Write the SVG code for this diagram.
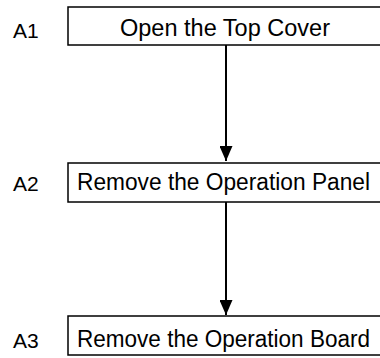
<svg xmlns="http://www.w3.org/2000/svg" width="380" height="358" viewBox="0 0 380 358">
<style>
.box{fill:#fff;stroke:#000;stroke-width:1.5}
.t{font-family:"Liberation Sans",Arial,sans-serif;font-size:23px;fill:#000}
.lbl{font-family:"Liberation Sans",Arial,sans-serif;font-size:21px;fill:#000}
.ln{stroke:#000;stroke-width:2;fill:none}
</style>
<defs>
<marker id="ah" markerUnits="userSpaceOnUse" markerWidth="15" markerHeight="13" refX="15" refY="6.5" orient="auto" viewBox="0 0 15 13">
<path d="M0,0 L15,6.5 L0,13 Z" fill="#000"/>
</marker>
</defs>
<rect width="380" height="358" fill="#fff"/>
<g id="connectors">
<line class="ln" x1="226" y1="45" x2="226" y2="161" marker-end="url(#ah)"/>
<line class="ln" x1="226" y1="202" x2="226" y2="315" marker-end="url(#ah)"/>
</g>
<g id="A1">
<text class="lbl" x="13" y="38">A1</text>
<rect class="box" x="68" y="7" width="330" height="38"/>
<text class="t" x="120" y="36" textLength="210" lengthAdjust="spacingAndGlyphs">Open the Top Cover</text>
</g>
<g id="A2">
<text class="lbl" x="13" y="191">A2</text>
<rect class="box" x="68" y="163" width="330" height="39"/>
<text class="t" x="77" y="190" textLength="293" lengthAdjust="spacingAndGlyphs">Remove the Operation Panel</text>
</g>
<g id="A3">
<text class="lbl" x="13" y="348">A3</text>
<rect class="box" x="68" y="316" width="330" height="39"/>
<text class="t" x="77" y="347" textLength="293" lengthAdjust="spacingAndGlyphs">Remove the Operation Board</text>
</g>
</svg>
